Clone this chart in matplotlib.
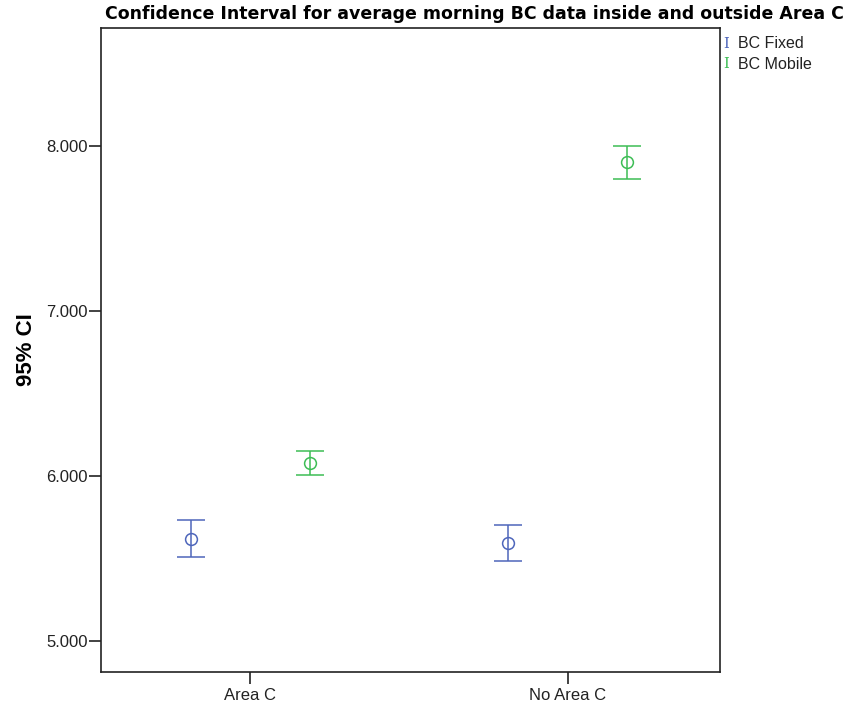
import matplotlib
matplotlib.use("Agg")
import matplotlib.pyplot as plt
from matplotlib.ticker import FormatStrFormatter

plt.rcParams['font.family'] = ['Liberation Sans', 'DejaVu Sans']

categories = ["Area C", "No Area C"]
series = ["BC Fixed", "BC Mobile"]
fixed_mean = [5.618, 5.594]
fixed_low = [5.509, 5.485]
fixed_high = [5.733, 5.703]
mobile_mean = [6.079, 7.902]
mobile_low = [6.006, 7.800]
mobile_high = [6.152, 8.000]
colors = ["#4e66bb", "#3dbd55"]

fig = plt.figure(figsize=(8.51, 7.09), dpi=100)
ax = fig.add_axes([101/851, 37/709, 619/851, 644/709])

x = [0, 1]
offset = 0.187
for vals, lo, hi, col, off in [(fixed_mean, fixed_low, fixed_high, colors[0], -offset),
                                (mobile_mean, mobile_low, mobile_high, colors[1], offset)]:
    xs = [xi + off for xi in x]
    yerr = [[m - l for m, l in zip(vals, lo)], [h - m for m, h in zip(vals, hi)]]
    ax.errorbar(xs, vals, yerr=yerr, fmt='o', mfc='none', mec=col, ecolor=col,
                color=col, ms=8.5, mew=1.1, elinewidth=1.1, capsize=10, capthick=1.1)

ax.set_xlim(-0.47, 1.48)
ax.set_ylim(4.812, 8.715)
ax.set_xticks(x)
ax.set_xticklabels(categories)
ax.set_yticks([5, 6, 7, 8])
ax.yaxis.set_major_formatter(FormatStrFormatter('%.3f'))
ax.tick_params(axis='both', direction='out', length=8.5, width=1.2, labelsize=12, colors='#222222')
ax.tick_params(axis='y', pad=1)
ax.tick_params(axis='x', pad=3)
for s in ax.spines.values():
    s.set_linewidth(1.2)
    s.set_color('#222222')

ax.set_ylabel("95% CI", fontsize=16, fontweight='bold', labelpad=7)
fig.text(474/851, 1 - 14/709, "Confidence Interval for average morning BC data inside and outside Area C",
         ha='center', va='center', fontsize=12.5, fontweight='bold', family='DejaVu Sans')

for i, (name, col) in enumerate(zip(series, colors)):
    y = 1 - (43.5 + 21*i)/709
    fig.text(726/851, y, "I", color=col, ha='center', va='center', fontsize=10.5,
             family='DejaVu Serif')
    fig.text(738/851, y, name, color='#222222', ha='left', va='center', fontsize=11.5)

fig.savefig("out.png", dpi=100)
